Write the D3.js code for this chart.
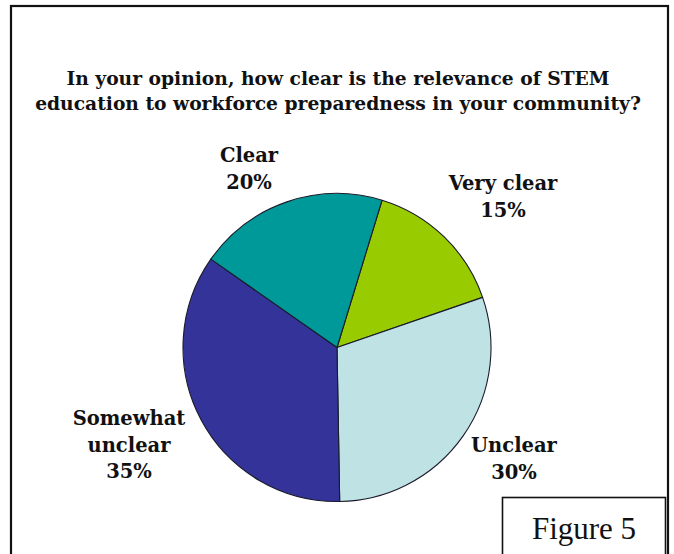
<!DOCTYPE html>
<html>
<head>
<meta charset="utf-8">
<script src="https://cdn.jsdelivr.net/npm/d3@7"></script>
<style>
  html, body { margin: 0; padding: 0; background: #fff; }
  svg { display: block; }
</style>
</head>
<body>
<script>
// Survey responses, clockwise from the top of the pie
const categories = ["Very clear", "Unclear", "Somewhat unclear", "Clear"];
const percents = [15, 30, 35, 20];
const sliceColors = ["#99cc00", "#bfe2e5", "#333399", "#009999"];

// Label text lines for each slice (name split over lines, then the value)
const labelLines = [["Very clear"], ["Unclear"], ["Somewhat", "unclear"], ["Clear"]];
// Label anchor points (first baseline, centre of the text block)
const labelPos = [[503, 190], [514, 452], [129, 425], [249, 162]];

const titleLines = [
  "In your opinion, how clear is the relevance of STEM",
  "education to workforce preparedness in your community?"
];

const W = 674, H = 554;
const cx = 337, cy = 347.5, R = 154;
const startDeg = 17;

const svg = d3.select("body").append("svg")
  .attr("width", W).attr("height", H);

// Outer frame
svg.append("rect")
  .attr("x", 11).attr("y", 6)
  .attr("width", 657).attr("height", 570)
  .attr("fill", "#fff").attr("stroke", "#111").attr("stroke-width", 2.2);

// Title
const serif = "Georgia, 'DejaVu Serif', serif";
svg.append("g").selectAll("text").data(titleLines).join("text")
  .attr("x", 338).attr("y", (d, i) => 85 + i * 25)
  .attr("text-anchor", "middle")
  .attr("font-family", serif)
  .attr("font-weight", "bold")
  .attr("font-size", 18.7)
  .attr("fill", "#111")
  .text(d => d);

// Pie
const data = categories.map((c, i) => ({ name: c, value: percents[i], color: sliceColors[i] }));
const pie = d3.pie().value(d => d.value).sort(null)
  .startAngle(startDeg * Math.PI / 180)
  .endAngle(startDeg * Math.PI / 180 + 2 * Math.PI);
const arc = d3.arc().innerRadius(0).outerRadius(R);

svg.append("g").attr("transform", `translate(${cx},${cy})`)
  .selectAll("path").data(pie(data)).join("path")
  .attr("d", arc)
  .attr("fill", d => d.data.color)
  .attr("stroke", "#1a1a2a")
  .attr("stroke-width", 1.1)
  .attr("stroke-linejoin", "round");

// Slice labels
const lg = svg.append("g")
  .attr("font-family", serif)
  .attr("font-weight", "bold")
  .attr("font-size", 19.5)
  .attr("fill", "#111")
  .attr("text-anchor", "middle");
data.forEach((d, i) => {
  const lines = labelLines[i].concat([d.value + "%"]);
  const t = lg.append("text")
    .attr("x", labelPos[i][0]).attr("y", labelPos[i][1]);
  lines.forEach((s, j) => {
    t.append("tspan").attr("x", labelPos[i][0]).attr("dy", j === 0 ? 0 : 26.5).text(s);
  });
});

// Figure tag box
svg.append("rect")
  .attr("x", 502.5).attr("y", 497.5)
  .attr("width", 163).attr("height", 70)
  .attr("fill", "#fff").attr("stroke", "#111").attr("stroke-width", 1.6);
svg.append("text")
  .attr("x", 584).attr("y", 539)
  .attr("text-anchor", "middle")
  .attr("font-family", "'Liberation Serif', 'Times New Roman', serif")
  .attr("font-size", 31)
  .attr("fill", "#111")
  .text("Figure 5");
</script>
</body>
</html>
